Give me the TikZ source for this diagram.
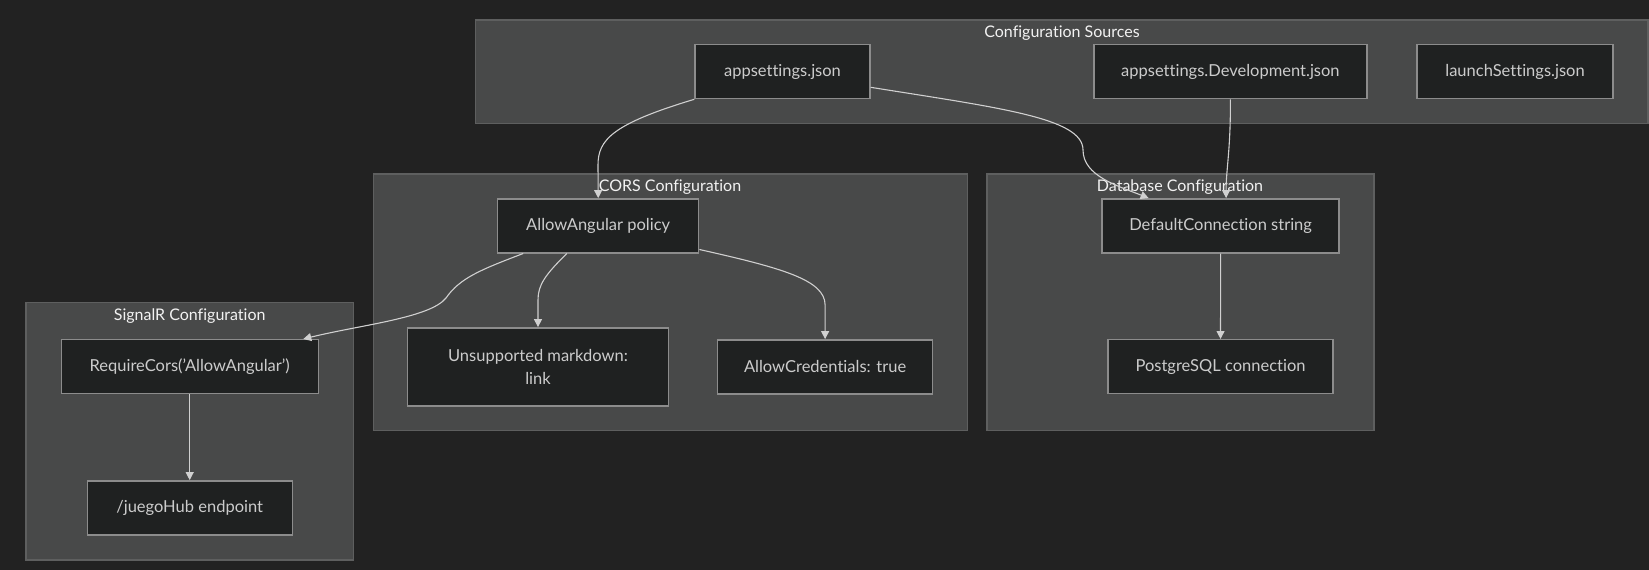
\documentclass[tikz,border=0pt]{standalone}
\usepackage{fontspec}
\setmainfont{Lato}[Ligatures={NoCommon,NoRequired,NoContextual}]
\usetikzlibrary{arrows.meta,calc}
\definecolor{bgc}{HTML}{222222}
\definecolor{grfill}{HTML}{484949}
\definecolor{grline}{HTML}{5E5F5F}
\definecolor{ndfill}{HTML}{1F2121}
\definecolor{ndline}{HTML}{8C8C8C}
\definecolor{txt}{HTML}{CCCCCC}
\definecolor{ttl}{HTML}{F2F2F2}
\definecolor{lnc}{HTML}{D0D0D0}
\tikzset{
	box/.style 2 args={draw=ndline,fill=ndfill,line width=1.4pt,text=txt,minimum width=#1,minimum height=#2,inner sep=0pt,align=center,font=\fontsize{16.5}{23.3}\selectfont},
	grp/.style={draw=grline,fill=grfill,line width=1.2pt},
	gtitle/.style={text=ttl,inner sep=0pt,font=\fontsize{16}{19}\selectfont},
	link/.style={draw=lnc,line width=1.1pt,-{Triangle[length=8pt,width=8pt]}}
}
\begin{document}
\begin{tikzpicture}[x=1pt,y=-1pt]
						\fill[bgc] (0,0) rectangle (1649,570);
						\useasboundingbox (0,0) rectangle (1649,570);

						% groups
						\draw[grp] (475.4,20) rectangle (1648,123.7);
						\draw[grp] (373.2,174) rectangle (967.7,430.7);
						\draw[grp] (987,174) rectangle (1374,430.7);
						\draw[grp] (25.9,302.7) rectangle (353.6,560);
						\node [gtitle] (srct) at (1062,33) {Configuration Sources};
						\node [gtitle] (corst) at (670,186.7) {CORS Configuration};
						\node [gtitle] (dbt) at (1180,186.7) {Database Configuration};
						\node [gtitle] (sigt) at (189.7,316) {SignalR Configuration};

						\node [box={175}{54}] (json) at (782.5,71.6) {appsettings.json};
						\node [box={273}{54}] (devjson) at (1230.4,71.6) {appsettings.Development.json};
						\node [box={196}{54}] (launch) at (1515,71.6) {launchSettings.json};
						\node [box={201}{54}] (policy) at (598.2,225.8) {AllowAngular policy};
						\node [box={261}{78}] (mdlink) at (538,366.8) {Unsupported markdown:\\link};
						\node [box={215}{54}] (creds) at (825.1,366.8) {AllowCredentials: true};
						\node [box={237}{54}] (defconn) at (1220.6,225.8) {DefaultConnection string};
						\node [box={225}{54}] (pgconn) at (1220.5,366.7) {PostgreSQL connection};
						\node [box={257}{54}] (reqcors) at (189.7,366.7) {RequireCors('AllowAngular')};
						\node [box={205}{54}] (hub) at (189.7,507.8) {/juegoHub endpoint};

						\draw[link] (json.south west) .. controls (612,124) and (598,140) .. (598,165) -- (policy.north);
						\draw[link] ($(json.east)+(0,15.7)$) .. controls (1000,108) and (1083,118) .. (1083,150)
							.. controls (1083,176) and (1118,186) .. ($(defconn.north)+(-72,0)$);
						\draw[link] (devjson.south) .. controls (1230.7,150) and (1226,170) .. ($(defconn.north)+(5.5,0)$);
						\draw[link] ($(policy.south)+(-75,0)$) .. controls (480,270) and (460,278) .. (446,298)
							.. controls (430,318) and (360,325) .. ($(reqcors.north east)+(-15.6,0)$);
						\draw[link] ($(policy.south)+(-31.4,0)$) .. controls (545,275) and (538,285) .. (538,300) -- (mdlink.north);
						\draw[link] ($(policy.south east)+(0,-4)$) .. controls (782,268) and (825.1,280) .. (825.1,305) -- (creds.north);
						\draw[link] (defconn) -- (pgconn);
						\draw[link] (reqcors) -- (hub);
					\end{tikzpicture}
\end{document}
